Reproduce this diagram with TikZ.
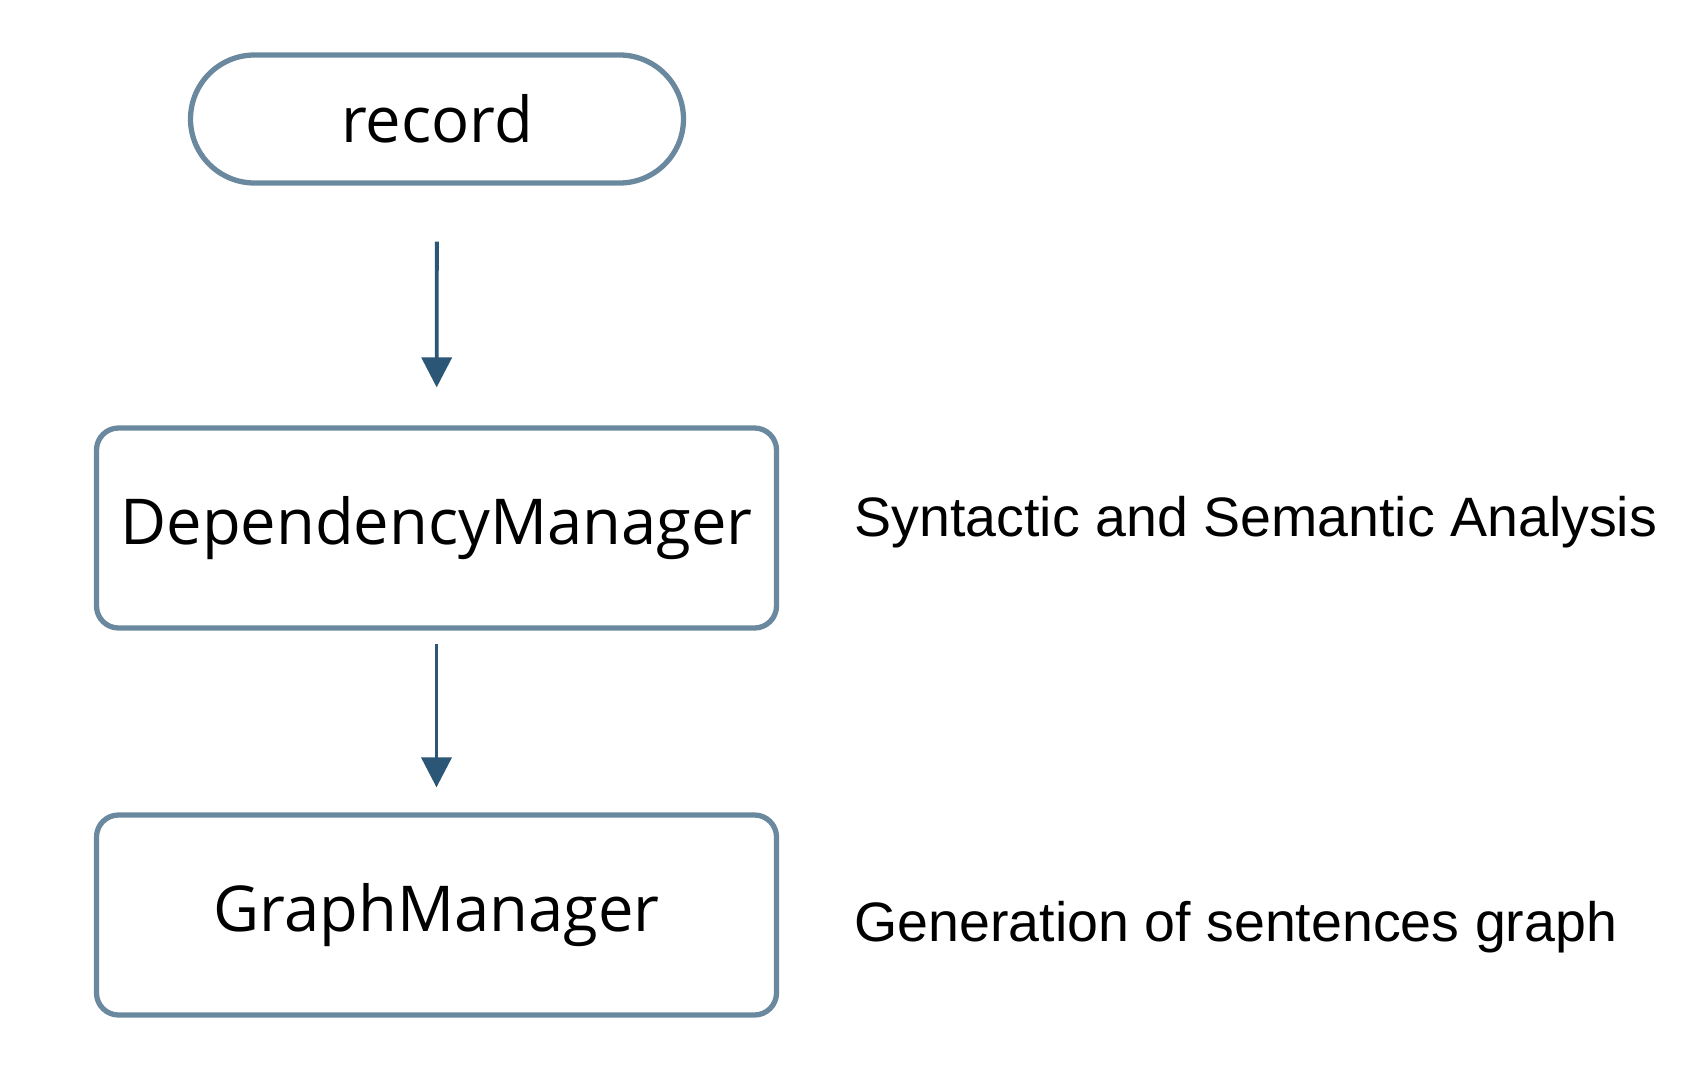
\documentclass[tikz,border=0pt]{standalone}
\usepackage{fontspec}
\setmainfont{Open Sans}
\newfontfamily\labelfont{Liberation Sans}
\usetikzlibrary{arrows.meta}
\definecolor{boxline}{HTML}{6A889E}
\definecolor{arrowline}{HTML}{2B5675}
\tikzset{every path/.style={line width=1.5pt}, box/.style={draw=boxline, rounded corners=0.22cm, minimum width=6.8cm, minimum height=2.0cm, font=\fontsize{18}{22}\selectfont}, flow/.style={draw=arrowline, line width=1.1pt, -{Triangle[length=0.3cm,width=0.3cm]}}}

\begin{document}
\begin{tikzpicture}
  \useasboundingbox (0,0) rectangle (16.88,-10.68);
  \node[box, rounded corners=0.64cm, minimum width=4.93cm, minimum height=1.28cm] (record) at (4.37,-1.19) {record};
  \node[box] (dm) at (4.365,-5.28) {DependencyManager};
  \node[box] (gm) at (4.365,-9.15) {GraphManager};
  \node[anchor=base west, inner sep=0pt, font=\labelfont\fontsize{15.8}{19}\selectfont] (syn) at (8.52,-5.36) {Syntactic and Semantic Analysis};
  \node[anchor=base west, inner sep=0pt, font=\labelfont\fontsize{15.8}{19}\selectfont] (gen) at (8.52,-9.41) {Generation of sentences graph};
  \draw[flow, shorten <=0.56cm, shorten >=0.38cm] (record) -- (dm);
  \draw[flow, shorten <=0.13cm, shorten >=0.25cm] (dm) -- (gm);
\end{tikzpicture}
\end{document}
